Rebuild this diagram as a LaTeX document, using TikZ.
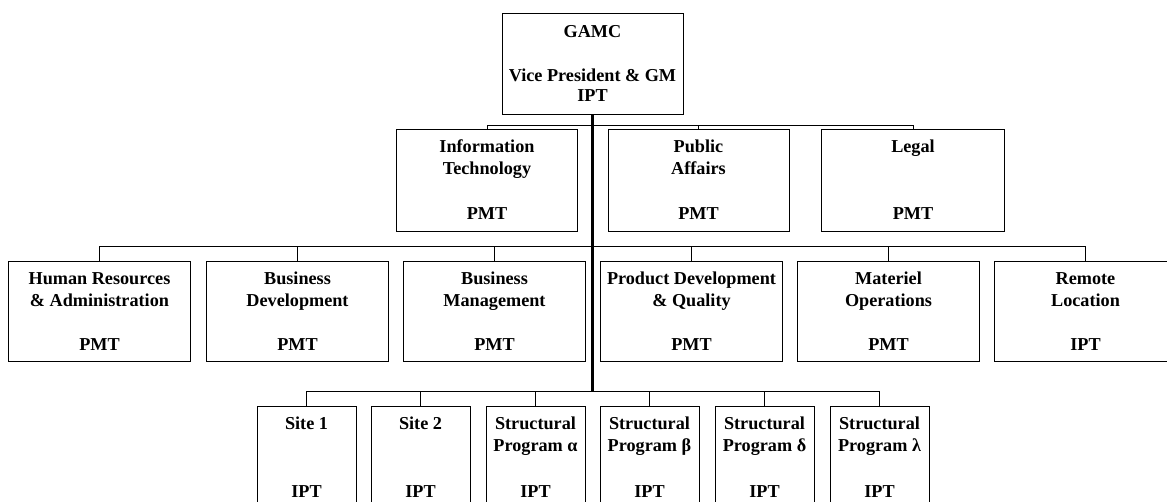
\documentclass[tikz,border=0pt]{standalone}
\usepackage{fontspec}
\setmainfont{Liberation Serif}
\newcommand\topstrut{\rule{0pt}{14pt}}
\tikzset{
  obox/.style={draw=black, line width=0.9pt, inner sep=0pt, anchor=north},
  otxt/.style={inner sep=0pt, align=center, font=\bfseries\fontsize{18.2}{22}\selectfont},
  conn/.style={draw=black, line width=0.9pt},
  trunk/.style={draw=black, line width=2.2pt},
}
% name, cx, top, width, height, title, status, status baseline offset
\newcommand\orgbox[8]{%
  \node[obox, minimum width=#4pt, minimum height=#5pt] (#1) at (#2,#3) {};
  \node[otxt, anchor=north] (#1-t) at ([yshift=-9.5pt]#1.north) {\topstrut #6};
  \node[otxt, anchor=base] (#1-s) at ([yshift=-#8pt]#1.north) {#7};
}
\begin{document}
\begin{tikzpicture}[x=1pt, y=-1pt]
\useasboundingbox (0,0) rectangle (1167,502);
\clip (0,0) rectangle (1167,502);
% top box
\node[obox, minimum width=181pt, minimum height=101pt] (gamc) at (592.5,13) {};
\node[otxt, anchor=north] (gamc-t) at ([yshift=-10pt]gamc.north) {\topstrut GAMC};
\node[otxt, anchor=base] (gamc-v) at ([yshift=-69pt]gamc.north) {Vice President \& GM};
\node[otxt, anchor=base] (gamc-s) at ([yshift=-89pt]gamc.north) {IPT};
% row 1
\orgbox{it}{487}{129}{181}{102}{Information\\Technology}{PMT}{91}
\orgbox{pa}{698.5}{129}{181}{102}{Public\\Affairs}{PMT}{91}
\orgbox{lg}{913}{129}{183}{102}{Legal}{PMT}{91}
% row 2
\orgbox{hr}{99.5}{261}{181.5}{100}{Human Resources\\\& Administration}{PMT}{90}
\orgbox{bd}{297.5}{261}{181.5}{100}{Business\\Development}{PMT}{90}
\orgbox{bm}{494.5}{261}{181.5}{100}{Business\\Management}{PMT}{90}
\orgbox{pd}{691.5}{261}{181.5}{100}{Product Development\\\& Quality}{PMT}{90}
\orgbox{mo}{888.5}{261}{181.5}{100}{Materiel\\Operations}{PMT}{90}
\orgbox{rl}{1085.5}{261}{181.5}{100}{Remote\\Location}{IPT}{90}
% row 3
\orgbox{s1}{306.5}{406}{99}{110}{Site 1}{IPT}{91}
\orgbox{s2}{420.5}{406}{99}{110}{Site 2}{IPT}{91}
\orgbox{sa}{535.5}{406}{99}{110}{Structural\\Program α}{IPT}{91}
\orgbox{sb}{649.5}{406}{99}{110}{Structural\\Program β}{IPT}{91}
\orgbox{sd}{764.5}{406}{99}{110}{Structural\\Program δ}{IPT}{91}
\orgbox{sl}{879.5}{406}{99}{110}{Structural\\Program λ}{IPT}{91}
% bus 1
\draw[conn] (it.north) -- ++(0,-4) -| (lg.north);
\draw[conn] (pa.north) -- ++(0,-4);
% bus 2
\draw[conn] (hr.north) -- ++(0,-15) -| (rl.north);
\foreach \n in {bd,bm,pd,mo} \draw[conn] (\n.north) -- ++(0,-15);
% bus 3
\draw[conn] (s1.north) -- ++(0,-15) -| (sl.north);
\foreach \n in {s2,sa,sb,sd} \draw[conn] (\n.north) -- ++(0,-15);
% trunk
\coordinate (j3) at ([yshift=15pt]gamc.south |- s1.north);
\draw[trunk] (gamc.south) -- (j3);
\end{tikzpicture}
\end{document}
